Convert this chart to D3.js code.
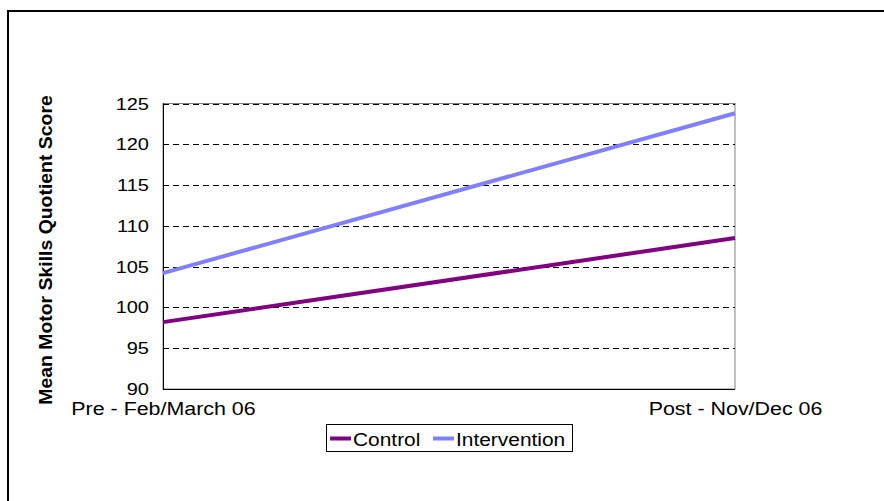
<!DOCTYPE html>
<html>
<head>
<meta charset="utf-8">
<script src="https://cdn.jsdelivr.net/npm/d3@7"></script>
<style>
  html, body { margin: 0; padding: 0; background: #fff; }
  svg { display: block; font-family: "Liberation Sans", Arial, sans-serif; }
</style>
</head>
<body>
<svg id="chart" width="884" height="501"></svg>
<script>
// Chart data
const categories = ["Pre - Feb/March 06", "Post - Nov/Dec 06"];
const controlScores = [98.2, 108.5];
const interventionScores = [104.2, 123.8];
const yTicks = [90, 95, 100, 105, 110, 115, 120, 125];
const seriesNames = ["Control", "Intervention"];
const yTitle = "Mean Motor Skills Quotient Score";

const colors = { Control: "#800080", Intervention: "#8080FF" };
const series = [
  { name: seriesNames[0], values: controlScores },
  { name: seriesNames[1], values: interventionScores }
];

const svg = d3.select("#chart");
const plot = { left: 163, right: 735, top: 103.5, bottom: 389 };

// Outer chart frame (top and left edges visible)
svg.append("path")
  .attr("d", "M8,501 V11 H884")
  .attr("fill", "none").attr("stroke", "#000").attr("stroke-width", 2);

const x = d3.scalePoint().domain(categories).range([plot.left, plot.right]).padding(0);
const y = d3.scaleLinear().domain([90, 125]).range([plot.bottom, plot.top]);

// Plot area border
svg.append("rect")
  .attr("x", plot.left).attr("y", plot.top)
  .attr("width", plot.right - plot.left).attr("height", plot.bottom - plot.top)
  .attr("fill", "none").attr("stroke", "#808080").attr("stroke-width", 1);

// Dashed horizontal gridlines
svg.append("g")
  .selectAll("line")
  .data(yTicks.filter(t => t > 90))
  .join("line")
  .attr("x1", plot.left).attr("x2", plot.right)
  .attr("y1", d => Math.round(y(d)) + 0.5).attr("y2", d => Math.round(y(d)) + 0.5)
  .attr("stroke", "#000").attr("stroke-width", 1)
  .attr("stroke-dasharray", "6,4");

// Y axis (labels only, stretched horizontally)
const yAxis = d3.axisLeft(y).tickValues(yTicks).tickSize(0).tickPadding(0);
const gy = svg.append("g").attr("transform", `translate(${plot.left},0)`).call(yAxis);
gy.select(".domain").remove();
gy.selectAll(".tick text")
  .attr("x", null).attr("dy", null)
  .attr("font-family", "Liberation Sans, Arial, sans-serif")
  .attr("font-size", 16).attr("fill", "#000")
  .attr("text-anchor", "end")
  .attr("transform", "translate(-14,5.5) scale(1.25,1)");

// X axis (category labels centered on the plot edges)
const xAxis = d3.axisBottom(x).tickSize(0).tickPadding(0);
const gx = svg.append("g").attr("transform", `translate(0,${plot.bottom})`).call(xAxis);
gx.select(".domain").remove();
gx.selectAll(".tick text")
  .attr("y", null).attr("dy", null)
  .attr("font-family", "Liberation Sans, Arial, sans-serif")
  .attr("font-size", 18).attr("fill", "#000")
  .attr("text-anchor", "middle")
  .attr("transform", "translate(0,26) scale(1.19,1)");

// Solid axis lines
svg.append("line")
  .attr("x1", plot.left + 0.5).attr("x2", plot.left + 0.5)
  .attr("y1", plot.top).attr("y2", plot.bottom + 0.5)
  .attr("stroke", "#000").attr("stroke-width", 1);
svg.append("line")
  .attr("x1", plot.left).attr("x2", plot.right)
  .attr("y1", plot.bottom + 0.5).attr("y2", plot.bottom + 0.5)
  .attr("stroke", "#000").attr("stroke-width", 1);

// Series lines
const line = d3.line()
  .x((d, i) => x(categories[i]))
  .y(d => y(d));

svg.append("g")
  .selectAll("path")
  .data(series)
  .join("path")
  .attr("d", d => line(d.values))
  .attr("fill", "none")
  .attr("stroke", d => colors[d.name])
  .attr("stroke-width", 4);

// Y axis title
svg.append("text")
  .attr("transform", "translate(51.5,250) rotate(-90) scale(1.05,1)")
  .attr("text-anchor", "middle")
  .attr("font-family", "Liberation Sans, Arial, sans-serif")
  .attr("font-weight", "bold")
  .attr("font-size", 18.5)
  .attr("fill", "#000")
  .text(yTitle);

// Legend
const legend = svg.append("g");
legend.append("rect")
  .attr("x", 326.5).attr("y", 424.5)
  .attr("width", 246).attr("height", 27)
  .attr("fill", "#fff").attr("stroke", "#000").attr("stroke-width", 1);

const legendItems = [
  { name: seriesNames[0], lx: 330, tx: 353 },
  { name: seriesNames[1], lx: 433, tx: 456 }
];
const li = legend.selectAll("g.item").data(legendItems).join("g").attr("class", "item");
li.append("line")
  .attr("x1", d => d.lx).attr("x2", d => d.lx + 21)
  .attr("y1", 438.5).attr("y2", 438.5)
  .attr("stroke", d => colors[d.name]).attr("stroke-width", 4);
li.append("text")
  .attr("transform", d => `translate(${d.tx},445.5) scale(1.1,1)`)
  .attr("font-family", "Liberation Sans, Arial, sans-serif")
  .attr("font-size", 19)
  .attr("fill", "#000")
  .text(d => d.name);
</script>
</body>
</html>
